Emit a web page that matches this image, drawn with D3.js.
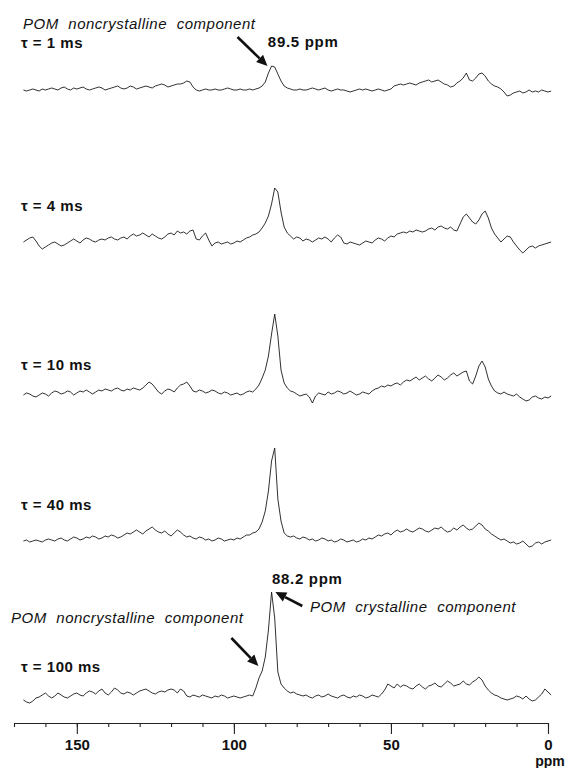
<!DOCTYPE html>
<html>
<head>
<meta charset="utf-8">
<script src="https://cdn.jsdelivr.net/npm/d3@7"></script>
<style>
  html, body { margin: 0; padding: 0; background: #fff; }
  svg { display: block; }
  text { font-family: "Liberation Sans", Arial, Helvetica, sans-serif; fill: #111; }
</style>
</head>
<body>
<svg id="chart" width="568" height="768"></svg>
<script>
// ---------------- DATA ----------------
// Chemical shift grid, ppm (167 ... -1, 1 ppm step)
const ppmGrid = d3.range(167, -2, -1);

// Spin-lock / delay times
const tauLabels = ["τ = 1 ms", "τ = 4 ms", "τ = 10 ms", "τ = 40 ms", "τ = 100 ms"];

// Intensities (arbitrary units) at each ppm in ppmGrid
const spec1ms = [
  0, -1, 0, 1, 0, -1, 1, 0, 1, 2,
  1, 0, 2, 3, 1, 0, 2, 1, 2, 3,
  1, 0, 1, 2, 3, 2, 0, 1, 2, 3,
  4, 2, 1, 2, 4, 3, 1, 2, 3, 4,
  3, 2, 4, 5, 6, 5, 3, 4, 5, 6,
  6, 7, 9, 8, 3, 0, -1, 0, 1, 0,
  0, 1, 0, 0, 1, 2, 1, 0, 0, 1,
  0, 0, 1, 0, 1, 2, 4, 8, 17, 24,
  23, 16, 9, 4, 2, 1, 0, 0, 1, 0,
  0, 1, 2, 1, 0, 1, 2, 0, -1, 0,
  1, 0, 0, -1, -2, -1, 0, 1, 0, 1,
  0, -1, 0, 1, 0, -1, 0, 1, 4, 5,
  6, 5, 6, 7, 6, 5, 7, 8, 9, 10,
  8, 9, 10, 8, 6, 5, 3, 4, 7, 9,
  12, 17, 10, 9, 12, 16, 17, 14, 9, 6,
  4, 3, 1, -2, -6, -5, -3, -2, -1, -3,
  -2, 0, -2, -1, -2, 0, -1, -2, -1
];
const spec4ms = [
  0, 2, 4, 5, 1, -4, -7, -5, -3, -1,
  0, -2, -4, -3, -1, 1, 3, 1, -1, 2,
  4, 3, 1, 0, 2, 3, 2, 4, 5, 3,
  2, 4, 5, 3, 6, 8, 6, 7, 9, 7,
  5, 8, 6, 4, 3, 5, 8, 9, 7, 11,
  9, 10, 8, 11, 12, 3, 2, 6, 9, 2,
  -4, -1, 0, -2, -1, 0, -2, -1, 1, 0,
  2, 4, 5, 7, 8, 10, 14, 19, 26, 38,
  54, 50, 30, 15, 9, 6, 3, 5, 4, 1,
  3, 2, 0, 2, 4, 3, 5, 3, 0, 4,
  7, 5, -1, -2, 0, -1, -2, -3, -1, 1,
  0, -1, 2, 4, 3, 1, 4, 6, 5, 8,
  9, 10, 9, 11, 10, 12, 11, 10, 11, 13,
  14, 12, 15, 16, 14, 13, 15, 12, 11, 18,
  25, 28, 24, 20, 18, 22, 28, 31, 24, 14,
  8, 4, 0, 3, 6, 5, 0, -4, -8, -11,
  -8, -5, -4, -6, -4, -3, -2, -1, 0
];
const spec10ms = [
  -1, 1, 0, -2, -3, -1, 1, 0, -2, 1,
  3, 2, 0, 1, 3, 2, -1, 1, 3, 2,
  4, 2, 0, 2, 4, 3, 5, 4, 3, 5,
  6, 4, 3, 5, 4, 6, 5, 4, 6, 9,
  12, 10, 6, 2, 0, 3, 5, 4, 2, 6,
  9, 10, 12, 8, 3, 2, 4, 3, 1, 2,
  4, 3, 1, 0, 2, 1, -1, 0, 1, -1,
  0, 2, 3, 2, 5, 9, 16, 24, 38, 60,
  80, 58, 24, 11, 6, 3, 2, 0, -2, -1,
  0, -3, -9, -2, 1, 0, -1, 2, 0, 1,
  3, 2, 0, 1, 3, 1, -1, 0, 2, 1,
  0, 3, 5, 6, 8, 7, 9, 8, 10, 11,
  9, 12, 14, 13, 15, 17, 14, 16, 18, 15,
  13, 16, 19, 17, 14, 16, 19, 21, 18, 20,
  22, 23, 13, 10, 18, 28, 33, 27, 15, 8,
  3, 1, 0, 2, 0, -1, -2, 0, -3, -5,
  -7, -6, -3, -2, -4, -5, -3, -4, -2
];
const spec40ms = [
  0, 1, -1, 0, 1, 0, -1, 1, 2, 1,
  0, 2, 3, 1, 0, 2, 4, 3, 1, 2,
  4, 3, 5, 4, 2, 3, 5, 4, 6, 5,
  3, 4, 6, 8, 7, 9, 11, 9, 7, 10,
  12, 14, 11, 9, 8, 10, 7, 5, 8, 11,
  9, 6, 4, 5, 3, 2, 4, 3, 1, 2,
  0, 1, 3, 2, 0, 1, 2, 1, 3, 2,
  4, 6, 6, 8, 9, 12, 19, 30, 50, 80,
  93, 42, 20, 8, 5, 4, 5, 3, 2, 4,
  3, 1, 2, 0, 1, 3, 2, 0, 1, -1,
  0, 2, 1, -1, 0, 1, -1, 0, 2, 1,
  3, 2, 4, 6, 5, 7, 8, 6, 9, 11,
  9, 10, 12, 10, 9, 11, 13, 12, 10, 9,
  11, 13, 12, 14, 11, 9, 10, 13, 11, 14,
  16, 13, 11, 12, 15, 18, 16, 12, 10, 7,
  5, 3, 1, 2, 0, -2, -1, -3, -2, 0,
  -3, -6, -5, -2, -1, -3, -1, 0, 1
];
const spec100ms = [
  -2, -4, -5, -3, 0, 1, 3, 5, 2, 0,
  2, 5, 3, 1, 0, 2, 4, 5, 3, 2,
  5, 7, 6, 4, 7, 9, 5, 3, 6, 10,
  8, 5, 4, 6, 5, 3, 5, 7, 8, 9,
  7, 5, 4, 6, 7, 6, 8, 9, 8, 5,
  9, 7, 2, 1, 3, 2, 1, 3, 2, 1,
  0, 2, 1, 3, 2, 0, 1, 2, 1, 0,
  1, 2, 3, 2, 10, 20, 27, 41, 68, 106,
  80, 26, 14, 10, 7, 5, 6, 4, 3, 2,
  3, 1, 0, 2, 3, 1, 2, 4, 2, 1,
  0, 2, 3, 1, 0, 2, 1, 3, 2, 0,
  1, 3, 2, 1, 4, 8, 14, 12, 10, 14,
  11, 13, 12, 10, 9, 12, 14, 11, 9, 12,
  13, 15, 12, 11, 14, 17, 15, 12, 13, 14,
  17, 14, 13, 16, 18, 21, 18, 12, 8, 5,
  3, 2, 0, -1, -2, -1, 0, 2, 1, -1,
  2, -1, -3, -2, 1, 4, 9, 6, 3
];
const spectra = [spec1ms, spec4ms, spec10ms, spec40ms, spec100ms];

// Axis ticks
const majorTicks = [150, 100, 50, 0];
const minorTicks = [170, 160, 150, 140, 130, 120, 110, 100, 90, 80, 70, 60, 50, 40, 30, 20, 10, 0];
const axisUnit = "ppm";

// Peak annotations
const peakLabels = [
  { spectrum: 0, ppm: 89.5, text: "89.5 ppm" },
  { spectrum: 4, ppm: 88.2, text: "88.2 ppm" }
];
const componentLabels = [
  { spectrum: 0, text: "POM noncrystalline component", headPpm: 89.3, headI: 24 },
  { spectrum: 4, text: "POM crystalline component", headPpm: 86.8, headI: 106 },
  { spectrum: 4, text: "POM noncrystalline component", headPpm: 92.2, headI: 32 }
];

// ---------------- LAYOUT ----------------
const svg = d3.select("#chart");
const W = 568, H = 768;
svg.append("rect").attr("width", W).attr("height", H).attr("fill", "#fff");

const x = d3.scaleLinear().domain([170, 0]).range([14, 548]);
// intensity -> pixel offset above each trace baseline
const yI = d3.scaleLinear().domain([0, 100]).range([0, -100]);
const baselines = [90, 242, 394, 541, 698];
const axisY = 723;

// traces
const line = d3.line()
  .x((d, i) => x(ppmGrid[i]))
  .curve(d3.curveLinear);

spectra.forEach((s, k) => {
  svg.append("path")
    .datum(s)
    .attr("fill", "none")
    .attr("stroke", "#1a1a1a")
    .attr("stroke-width", 0.9)
    .attr("stroke-linejoin", "round")
    .attr("d", line.y(d => baselines[k] + yI(d)));
});

// tau labels
const tauOffsets = [-42, -31, -24, -31, -26];
tauLabels.forEach((t, k) => {
  svg.append("text")
    .attr("x", 21)
    .attr("y", baselines[k] + tauOffsets[k])
    .attr("font-size", 15)
    .attr("font-weight", "bold")
    .attr("letter-spacing", 0.5)
    .text(t);
});

// peak ppm labels
const peakLabelDy = [-43, -114];
peakLabels.forEach((p, j) => {
  svg.append("text")
    .attr("x", x(p.ppm) + 1)
    .attr("y", baselines[p.spectrum] + peakLabelDy[j])
    .attr("font-size", 15)
    .attr("font-weight", "bold")
    .attr("letter-spacing", 0.7)
    .text(p.text);
});

// component labels + arrows
const compLayout = [
  { tx: 23, ty: 29, dx: -30, dy: -29 },
  { tx: 310, ty: 612, dx: 27, dy: 14 },
  { tx: 11, ty: 623, dx: -27, dy: -28 }
];
function arrow(x2, y2, x1, y1) {
  // from tail (x1,y1) to head (x2,y2)
  const ang = Math.atan2(y2 - y1, x2 - x1);
  const L = 11, hw = 5;
  const bx = x2 - L * Math.cos(ang), by = y2 - L * Math.sin(ang);
  svg.append("line")
    .attr("x1", x1).attr("y1", y1).attr("x2", bx).attr("y2", by)
    .attr("stroke", "#111").attr("stroke-width", 2.6);
  const px = -Math.sin(ang), py = Math.cos(ang);
  svg.append("path")
    .attr("d", `M${x2},${y2} L${bx + px * hw},${by + py * hw} L${bx - px * hw},${by - py * hw} Z`)
    .attr("fill", "#111");
}
componentLabels.forEach((c, j) => {
  const L = compLayout[j];
  svg.append("text")
    .attr("x", L.tx).attr("y", L.ty)
    .attr("font-size", 15)
    .attr("font-style", "italic")
    .attr("letter-spacing", 0.5)
    .attr("word-spacing", 5)
    .text(c.text);
  const hx = x(c.headPpm), hy = baselines[c.spectrum] + yI(c.headI);
  arrow(hx, hy, hx + L.dx, hy + L.dy);
});

// axis
const gMinor = svg.append("g").attr("transform", `translate(0,${axisY})`)
  .call(d3.axisBottom(x).tickValues(minorTicks).tickSize(4).tickSizeOuter(0).tickFormat(""));
const gMajor = svg.append("g").attr("transform", `translate(0,${axisY})`)
  .call(d3.axisBottom(x).tickValues(majorTicks).tickSize(11).tickSizeOuter(0).tickPadding(5).tickFormat(d3.format("d")));
[gMinor, gMajor].forEach(g => {
  g.selectAll("path, line").attr("stroke", "#222").attr("stroke-width", 1.1);
});
gMajor.selectAll("text")
  .attr("font-size", 15)
  .attr("font-weight", "bold")
  .attr("font-family", "Liberation Sans, Arial, sans-serif")
  .attr("fill", "#111");
svg.append("text")
  .attr("x", x(0) + 2)
  .attr("y", axisY + 43)
  .attr("text-anchor", "middle")
  .attr("font-size", 14)
  .attr("font-weight", "bold")
  .text(axisUnit);
</script>
</body>
</html>
